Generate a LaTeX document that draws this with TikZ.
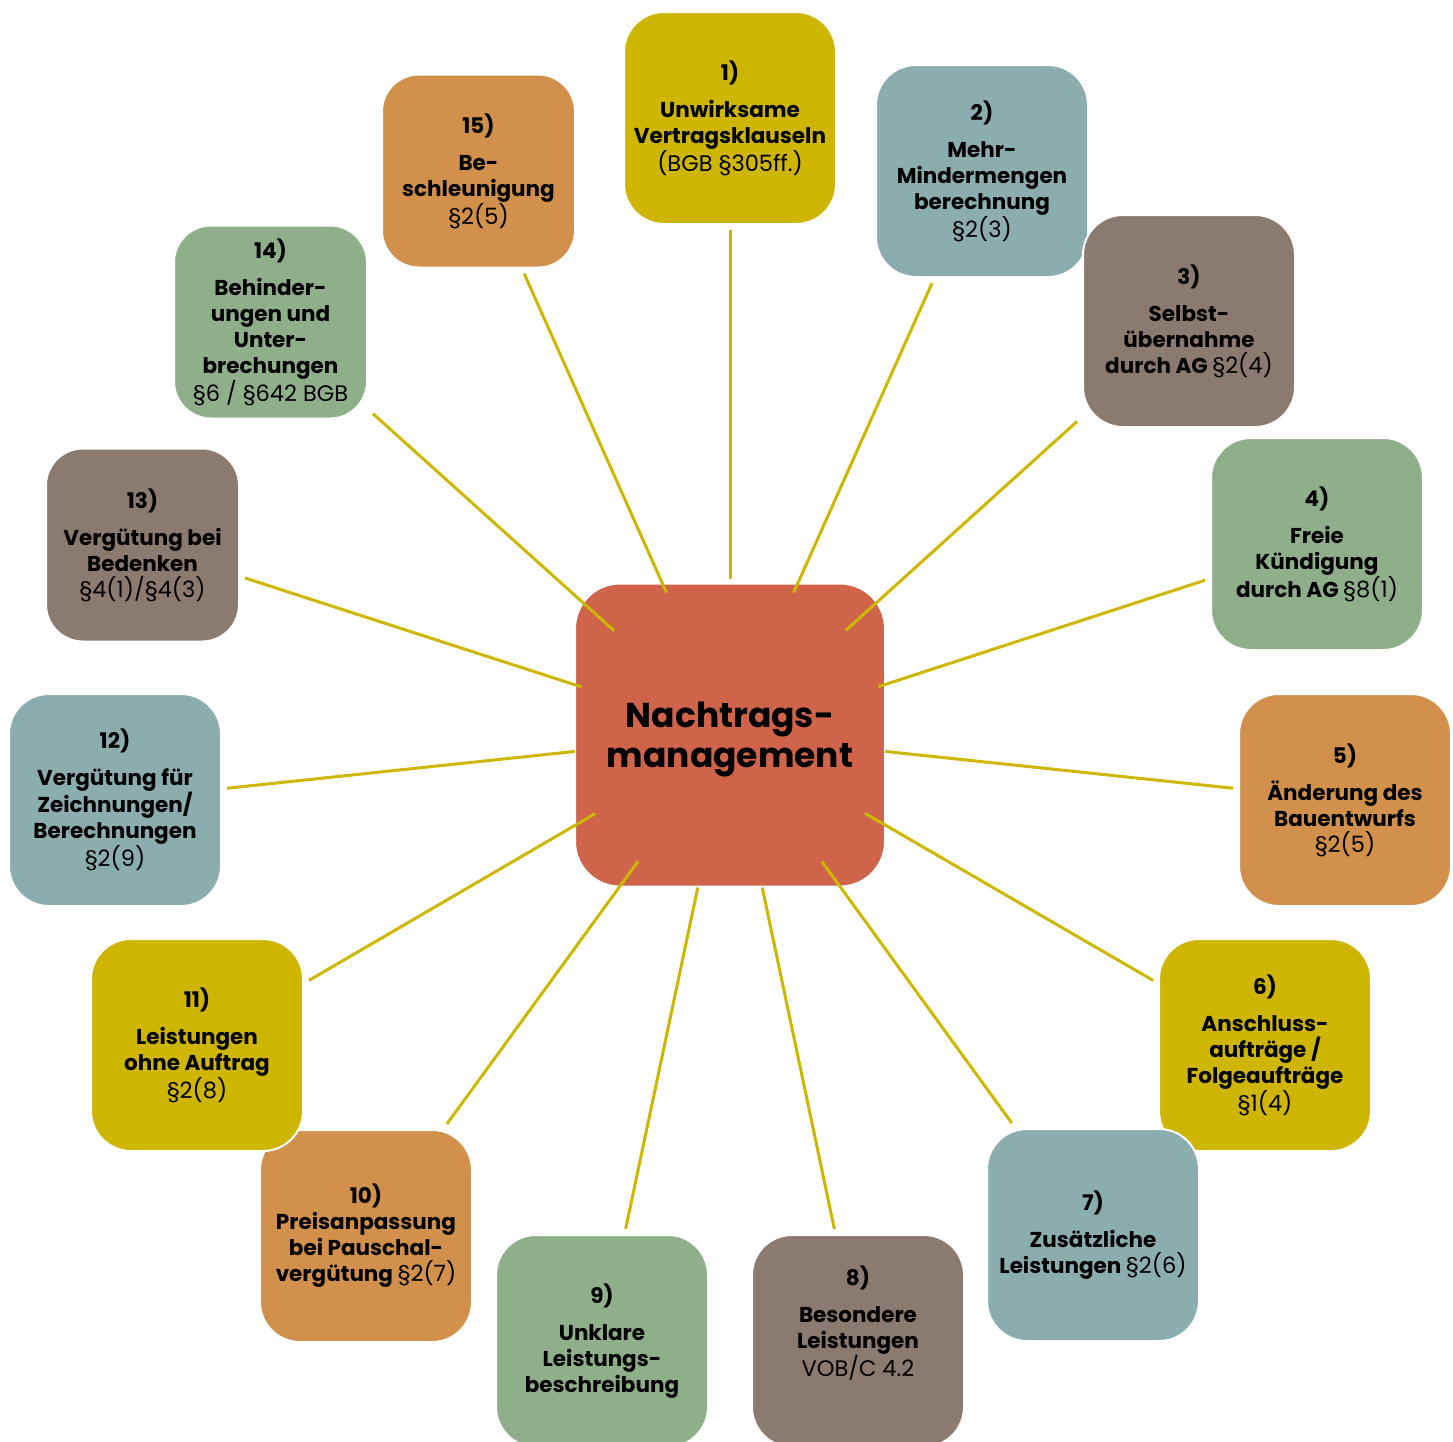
\documentclass[tikz,border=0pt]{standalone}
\usepackage{fontspec}
\setmainfont{Poppins}
\definecolor{cYel}{RGB}{205,181,0}
\definecolor{cTeal}{RGB}{139,173,174}
\definecolor{cBrown}{RGB}{139,122,111}
\definecolor{cGreen}{RGB}{143,175,139}
\definecolor{cOrange}{RGB}{209,144,75}
\definecolor{cCenter}{RGB}{208,100,74}
\definecolor{cLine}{RGB}{205,183,0}
\newcommand{\reg}[1]{{\fontsize{22.5}{26}\selectfont\mdseries #1}}
\begin{document}
\begin{tikzpicture}[x=1pt,y=-1pt,
  box/.style={rounded corners=40pt, minimum width=212pt, minimum height=212pt,
    draw=white, line width=2pt, align=center, text=black,
    font=\fontsize{21.5}{26}\selectfont\bfseries, inner sep=0pt, outer sep=6pt},
  sbox/.style={box, minimum width=193pt, minimum height=193pt, rounded corners=37pt},
  hub/.style={rounded corners=45pt, minimum width=310pt, minimum height=303pt,
    draw=white, line width=2pt, fill=cCenter, align=center, text=black,
    font=\fontsize{34.5}{40}\selectfont\bfseries, inner sep=0pt},
  conn/.style={draw=cLine, line width=3pt, shorten <=156pt}
]
\useasboundingbox (0,0) rectangle (1453,1441);
\node[hub] (c) at (730,735) {Nachtrags-\\management\\[-40pt]\mbox{}};
\node[box, fill=cYel] (n1) at (730,118) {1)\\[11pt]Unwirksame\\Vertragsklauseln\\\reg{(BGB §305ff.)}};
\node[box, fill=cTeal] (n2) at (982,171) {2)\\[11pt]Mehr-\\Mindermengen\\berechnung\\\reg{§2(3)}};
\node[box, fill=cBrown] (n3) at (1189,321) {3)\\[11pt]Selbst-\\übernahme\\durch AG \reg{§2(4)}};
\node[box, fill=cGreen] (n4) at (1317,544) {4)\\[11pt]Freie\\Kündigung\\durch AG \reg{§8(1)}};
\node[box, fill=cOrange] (n5) at (1345,800) {5)\\[11pt]Änderung des\\Bauentwurfs\\\reg{§2(5)}};
\node[box, fill=cYel] (n6) at (1265,1045) {6)\\[11pt]Anschluss-\\aufträge /\\Folgeaufträge\\\reg{§1(4)}};
\node[box, fill=cTeal] (n7) at (1093,1235) {7)\\[11pt]Zusätzliche\\Leistungen \reg{§2(6)}};
\node[box, fill=cBrown] (n8) at (858,1341) {8)\\[11pt]Besondere\\Leistungen\\\reg{VOB/C 4.2}\\[14pt]\mbox{}};
\node[box, fill=cGreen] (n9) at (602,1341) {9)\\[11pt]Unklare\\Leistungs-\\beschreibung};
\node[box, fill=cOrange] (n10) at (366,1236) {10)\\Preisanpassung\\bei Pauschal-\\vergütung \reg{§2(7)}};
\node[box, fill=cYel] (n11) at (197,1045) {11)\\[11pt]Leistungen\\ohne Auftrag\\\reg{§2(8)}};
\node[box, fill=cTeal] (n12) at (115,800) {12)\\[11pt]Vergütung für\\Zeichnungen/\\Berechnungen\\\reg{§2(9)}};
\node[sbox, fill=cBrown] (n13) at (142.5,545) {13)\\[11pt]Vergütung bei\\Bedenken\\\reg{§4(1)/§4(3)}};
\node[sbox, fill=cGreen] (n14) at (270.5,322) {14)\\[11pt]Behinder-\\ungen und\\Unter-\\brechungen\\\reg{§6 / §642 BGB}};
\node[sbox, fill=cOrange] (n15) at (478.5,171) {15)\\[11pt]Be-\\schleunigung\\\reg{§2(5)}};
\foreach \n in {n1,n2,n3,n4,n5,n6,n7,n8,n9,n10,n11,n12,n13,n14,n15}
  \draw[conn] (c.center) -- (\n);
\end{tikzpicture}
\end{document}
